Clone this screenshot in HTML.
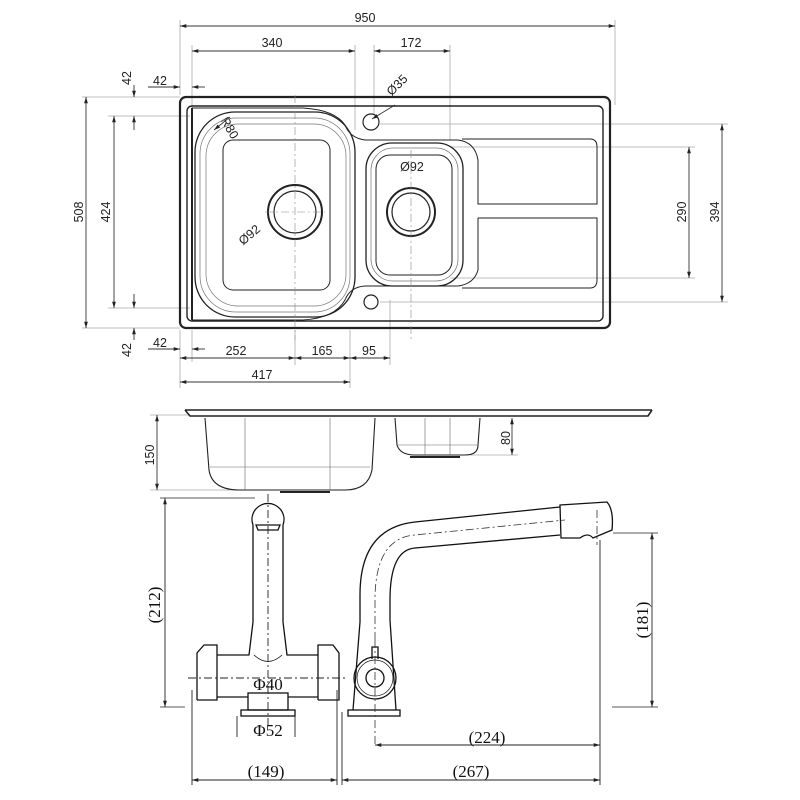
<!DOCTYPE html>
<html><head><meta charset="utf-8"><style>
html,body{margin:0;padding:0;background:#fff;}
svg{display:block;}
text{font-family:"Liberation Sans",sans-serif;font-size:12.5px;fill:#222;}
.s{font-family:"Liberation Serif",serif;font-size:17px;fill:#111;}
</style></head><body>
<svg width="800" height="800" viewBox="0 0 800 800" xmlns="http://www.w3.org/2000/svg">
<defs>
<marker id="a" viewBox="0 0 10 10" refX="10" refY="5" markerWidth="7" markerHeight="7" orient="auto-start-reverse"><path d="M0,2 L10,5 L0,8z" fill="#222"/></marker>
</defs>
<g stroke="#aaa" stroke-width="0.8" fill="none">
<line x1="180" y1="20" x2="180" y2="95"/><line x1="615" y1="20" x2="615" y2="105"/>
<line x1="192" y1="45" x2="192" y2="115"/><line x1="355" y1="45" x2="355" y2="130"/>
<line x1="374" y1="45" x2="374" y2="115"/><line x1="450" y1="45" x2="450" y2="140"/>
<line x1="82" y1="97" x2="180" y2="97"/><line x1="82" y1="328" x2="180" y2="328"/>
<line x1="108" y1="116" x2="190" y2="116"/><line x1="108" y1="308" x2="190" y2="308"/>
<line x1="380" y1="124" x2="728" y2="124"/><line x1="380" y1="302" x2="728" y2="302"/>
<line x1="450" y1="147" x2="695" y2="147"/><line x1="450" y1="278" x2="695" y2="278"/>
<line x1="180" y1="330" x2="180" y2="388"/><line x1="192" y1="330" x2="192" y2="362"/>
<line x1="295" y1="330" x2="295" y2="365"/><line x1="350" y1="330" x2="350" y2="388"/>
<line x1="390" y1="300" x2="390" y2="365"/>
<line x1="150" y1="415" x2="190" y2="415"/><line x1="150" y1="490" x2="290" y2="490"/>
<line x1="470" y1="455" x2="518" y2="455"/>
</g>
<g stroke="#333" stroke-width="0.9" fill="none">
<line x1="180" y1="26" x2="615" y2="26" marker-start="url(#a)" marker-end="url(#a)"/>
<line x1="192" y1="51" x2="355" y2="51" marker-start="url(#a)" marker-end="url(#a)"/>
<line x1="374" y1="51" x2="450" y2="51" marker-start="url(#a)" marker-end="url(#a)"/>
<line x1="86" y1="97" x2="86" y2="328" marker-start="url(#a)" marker-end="url(#a)"/>
<line x1="114" y1="116" x2="114" y2="308" marker-start="url(#a)" marker-end="url(#a)"/>
<line x1="689" y1="147" x2="689" y2="278" marker-start="url(#a)" marker-end="url(#a)"/>
<line x1="722" y1="124" x2="722" y2="302" marker-start="url(#a)" marker-end="url(#a)"/>
<line x1="134" y1="85" x2="134" y2="97" marker-end="url(#a)"/><line x1="134" y1="130" x2="134" y2="116" marker-end="url(#a)"/>
<line x1="134" y1="294" x2="134" y2="308" marker-end="url(#a)"/><line x1="134" y1="340" x2="134" y2="328" marker-end="url(#a)"/>
<line x1="148" y1="87" x2="180" y2="87" marker-end="url(#a)"/><line x1="205" y1="87" x2="192" y2="87" marker-end="url(#a)"/>
<line x1="148" y1="349" x2="180" y2="349" marker-end="url(#a)"/><line x1="205" y1="349" x2="192" y2="349" marker-end="url(#a)"/>
<line x1="180" y1="358" x2="295" y2="358" marker-start="url(#a)" marker-end="url(#a)"/>
<line x1="295" y1="358" x2="350" y2="358" marker-start="url(#a)" marker-end="url(#a)"/>
<line x1="350" y1="358" x2="390" y2="358" marker-start="url(#a)" marker-end="url(#a)"/>
<line x1="180" y1="382" x2="350" y2="382" marker-start="url(#a)" marker-end="url(#a)"/>
<line x1="157" y1="415" x2="157" y2="490" marker-start="url(#a)" marker-end="url(#a)"/>
<line x1="512" y1="418" x2="512" y2="455" marker-start="url(#a)" marker-end="url(#a)"/>
<line x1="395" y1="105" x2="372" y2="119" marker-end="url(#a)"/>
<line x1="230" y1="117" x2="214" y2="130" marker-end="url(#a)"/>
</g>
<g>
<text x="365" y="22" text-anchor="middle">950</text>
<text x="272" y="47" text-anchor="middle">340</text>
<text x="411" y="47" text-anchor="middle">172</text>
<text x="160" y="85" text-anchor="middle">42</text>
<text x="160" y="347" text-anchor="middle">42</text>
<text x="236" y="355" text-anchor="middle">252</text>
<text x="322" y="355" text-anchor="middle">165</text>
<text x="369" y="355" text-anchor="middle">95</text>
<text x="262" y="379" text-anchor="middle">417</text>
<text transform="translate(83,212) rotate(-90)" text-anchor="middle">508</text>
<text transform="translate(110,212) rotate(-90)" text-anchor="middle">424</text>
<text transform="translate(131,78) rotate(-90)" text-anchor="middle">42</text>
<text transform="translate(131,350) rotate(-90)" text-anchor="middle">42</text>
<text transform="translate(686,212) rotate(-90)" text-anchor="middle">290</text>
<text transform="translate(719,212) rotate(-90)" text-anchor="middle">394</text>
<text transform="translate(154,455) rotate(-90)" text-anchor="middle">150</text>
<text transform="translate(510,438) rotate(-90)" text-anchor="middle">80</text>
<text transform="translate(400,88) rotate(-45)" text-anchor="middle">Ø35</text>
<text transform="translate(226,130) rotate(60)" text-anchor="middle">R80</text>
<text transform="translate(252,238) rotate(-40)" text-anchor="middle">Ø92</text>
<text x="412" y="171" text-anchor="middle">Ø92</text>
</g>
<g fill="none" stroke="#222">
<rect x="180" y="97" width="430" height="231" rx="6" stroke-width="2.2"/>
<rect x="187" y="106" width="416" height="215" rx="5" stroke-width="1.4"/>
<path d="M192,108 H303 Q335,110 345,125 Q350,138 365,140 H458 Q475,142 478,160 V204 H597 V147 Q597,139 590,139 H462" stroke-width="1"/>
<path d="M478,218 V270 Q474,284 458,286 H365 Q350,287 345,300 Q335,318 303,320 H192" stroke-width="1"/>
<path d="M478,218 H597 V280 Q597,288 590,288 H462" stroke-width="1"/>
<path d="M192,108 V320" stroke-width="2"/>
<rect x="195" y="112" width="160" height="205" rx="40" stroke-width="1.3"/>
<rect x="200" y="118" width="150" height="194" rx="36" stroke-width="0.7" stroke="#777"/>
<rect x="206" y="124" width="140" height="182" rx="32" stroke-width="0.7" stroke="#777"/>
<rect x="223" y="140" width="107" height="150" rx="10" stroke-width="1"/>
<rect x="366" y="143" width="97" height="143" rx="26" stroke-width="1.3"/>
<rect x="371" y="148" width="87" height="133" rx="22" stroke-width="0.7" stroke="#777"/>
<rect x="376" y="155" width="76" height="120" rx="14" stroke-width="1"/>
<circle cx="295" cy="212" r="27" stroke-width="2"/><circle cx="295" cy="212" r="21" stroke-width="1.2"/>
<circle cx="411" cy="212" r="24" stroke-width="2"/><circle cx="411" cy="212" r="19" stroke-width="1.2"/>
<circle cx="371" cy="122" r="8" stroke-width="1.2"/><circle cx="371" cy="302" r="7" stroke-width="1.2"/>
</g>
<g stroke="#888" stroke-width="0.6" fill="none" stroke-dasharray="8,3,2,3">
<line x1="295" y1="95" x2="295" y2="340"/><line x1="411" y1="150" x2="411" y2="340"/>
<line x1="265" y1="212" x2="325" y2="212"/>
</g>
<g fill="none" stroke="#222" stroke-width="1.1">
<path d="M185,410 H652 M185,410 L190,416 H648 L652,410" stroke-width="1.6"/>
<path d="M205,418 L209,470 Q212,490 240,490 H345 Q368,490 372,470 L375,418"/>
<path d="M395,418 L397,445 Q400,455 415,455 H465 Q478,455 478,445 L480,418"/>
<path d="M280,492 H330 M410,457 H460" stroke-width="2"/>
<path d="M245,418 V490 M330,418 V490 M425,418 V455 M450,418 V455 M210,467 H370 M398,445 H478" stroke="#666" stroke-width="0.6"/>
</g>
<g fill="none" stroke="#111" stroke-width="1.3">
<path d="M253,525 A16,16 0 1 1 283,525"/>
<path d="M256,525 H280 L278,530 H258Z"/>
<path d="M253,525 V622 L249,655 H217 M283,525 V622 L287,655 H318"/>
<path d="M254,655 Q268,668 282,655" stroke-width="0.8"/>
<path d="M197,700 V653 L204,645 H217 V700 H197 M217,697 H248 M288,697 H318 M318,700 V645 H333 L339,653 V700 H318"/>
<rect x="248" y="693" width="40" height="17"/><rect x="241" y="710" width="54" height="6"/>
</g>
<g stroke="#222" stroke-width="0.9" fill="none">
<line x1="268" y1="494" x2="268" y2="725" stroke-dasharray="8,3,2,3"/>
<line x1="188" y1="678" x2="348" y2="678" stroke-dasharray="8,3,2,3"/>
<line x1="165" y1="498" x2="165" y2="707" marker-start="url(#a)" marker-end="url(#a)"/>
<line x1="160" y1="498" x2="255" y2="498" stroke-width="0.7"/><line x1="160" y1="707" x2="185" y2="707" stroke-width="0.7"/>
<line x1="192" y1="690" x2="192" y2="785"/><line x1="337" y1="690" x2="337" y2="785"/>
<line x1="192" y1="780" x2="337" y2="780" marker-start="url(#a)" marker-end="url(#a)"/>
<line x1="237" y1="716" x2="237" y2="737"/><line x1="295" y1="716" x2="295" y2="737"/>
<line x1="342" y1="712" x2="342" y2="785"/><line x1="342" y1="780" x2="600" y2="780" marker-start="url(#a)" marker-end="url(#a)"/>
<line x1="600" y1="540" x2="600" y2="785"/>
<line x1="375" y1="745" x2="600" y2="745" marker-start="url(#a)" marker-end="url(#a)"/>
<line x1="652" y1="533" x2="652" y2="707" marker-start="url(#a)" marker-end="url(#a)"/>
<line x1="613" y1="533" x2="658" y2="533" stroke-width="0.7"/><line x1="612" y1="707" x2="658" y2="707" stroke-width="0.7"/>
</g>
<g fill="none" stroke="#111" stroke-width="1.3">
<path d="M360,622 V595 Q360,528 415,522 L560,507"/>
<path d="M390,620 V600 Q390,550 415,548 L560,535"/>
<path d="M560,505 L607,502 Q614,510 612,530 L593,538 Q588,532 580,538 H561 Z"/>
<path d="M360,622 L353,710 M390,620 L396,710"/>
<rect x="348" y="710" width="52" height="6"/>
<circle cx="375" cy="678" r="21"/><circle cx="375" cy="678" r="18" stroke-width="0.7"/><circle cx="375" cy="678" r="9"/>
<path d="M372,659 V647 H378 V659"/>
</g>
<g stroke="#333" stroke-width="0.8" fill="none" stroke-dasharray="8,3,2,3">
<line x1="375" y1="640" x2="375" y2="745"/>
<path d="M375,640 V600 Q375,538 415,535 L565,520"/>
<line x1="597" y1="510" x2="597" y2="545"/>
</g>
<text class="s" x="268" y="690" text-anchor="middle">Φ40</text>
<text class="s" x="268" y="736" text-anchor="middle">Φ52</text>
<text class="s" x="266" y="777" text-anchor="middle">(149)</text>
<text class="s" x="471" y="777" text-anchor="middle">(267)</text>
<text class="s" x="487" y="743" text-anchor="middle">(224)</text>
<text class="s" transform="translate(160,605) rotate(-90)" text-anchor="middle">(212)</text>
<text class="s" transform="translate(648,620) rotate(-90)" text-anchor="middle">(181)</text>
</svg>
</body></html>
